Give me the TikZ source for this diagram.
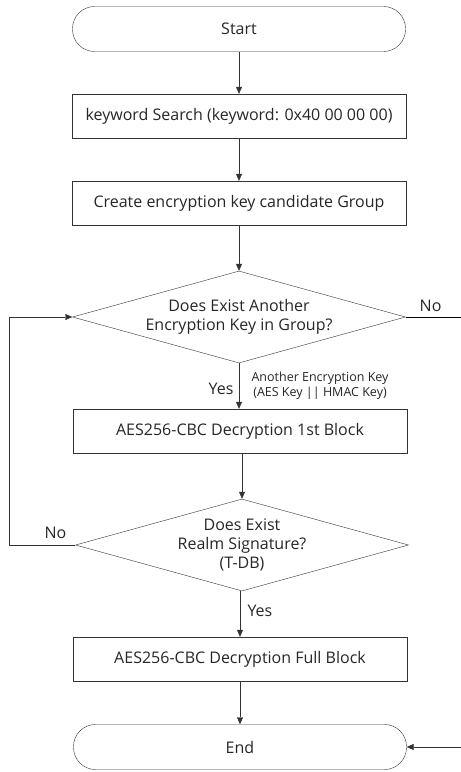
\documentclass[tikz,border=0pt]{standalone}
\usepackage{fontspec}
\setmainfont{Open Sans}
\usetikzlibrary{shapes.geometric,arrows.meta}

\begin{document}
\begin{tikzpicture}[x=1pt,y=1pt,
    every node/.style={font=\fontsize{16}{19}\selectfont, text=black!85},
    term/.style={draw=black!80, rounded corners=22pt, minimum width=333pt, minimum height=45pt},
    proc/.style={draw=black!80, minimum width=334pt, minimum height=44pt},
    cond/.style={draw=black!80, diamond, aspect=3.6, minimum width=333pt, minimum height=92pt, inner sep=0pt, align=center},
    note/.style={font=\fontsize{12.5}{15}\selectfont, align=center},
    arr/.style={draw=black!80, -{Triangle[length=7pt,width=6pt]}}]
  \useasboundingbox (0,0) rectangle (461,-772);

  \node[term] (start) at (239,-29) {Start};
  \node[proc] (search) at (239,-116) {keyword Search (keyword: 0x40 00 00 00)};
  \node[proc] (group) at (239,-203) {Create encryption key candidate Group};
  \node[cond] (another) at (239,-317) {Does Exist Another\\Encryption Key in Group?};
  \node[proc] (first) at (240,-431) {AES256-CBC Decryption 1st Block};
  \node[cond] (realm) at (242,-545) {Does Exist\\Realm Signature?\\(T-DB)};
  \node[proc] (full) at (240,-659) {AES256-CBC Decryption Full Block};
  \node[term] (end) at (240,-747) {End};

  \coordinate (noright) at (461,-317);
  \coordinate (toend) at (461,-747);

  \draw[arr] (start) -- (search);
  \draw[arr] (search) -- (group);
  \draw[arr] (group) -- (another);
  \draw[arr] (another) -- node[left, xshift=-2pt, yshift=-3pt] {Yes}
    node[right, note, xshift=9pt, yshift=0pt] {Another Encryption Key\\(AES Key || HMAC Key)} (another.south |- first.north);
  \draw[arr] (first.south -| realm.north) -- (realm);
  \draw[arr] (realm.south -| full.north) -- node[right, xshift=4pt, yshift=3pt] {Yes} (full);
  \draw[arr] (full) -- (end);

  % loop back when no realm signature
  \draw[arr] (realm.west) -- node[above, pos=0.3, yshift=3pt] {No} ++(-66,0) |- (another.west);
  \draw (another.east) -- node[above, pos=0.45, yshift=2pt] {No} (noright);
  \draw[arr] (toend) -- (end.east);
\end{tikzpicture}
\end{document}
